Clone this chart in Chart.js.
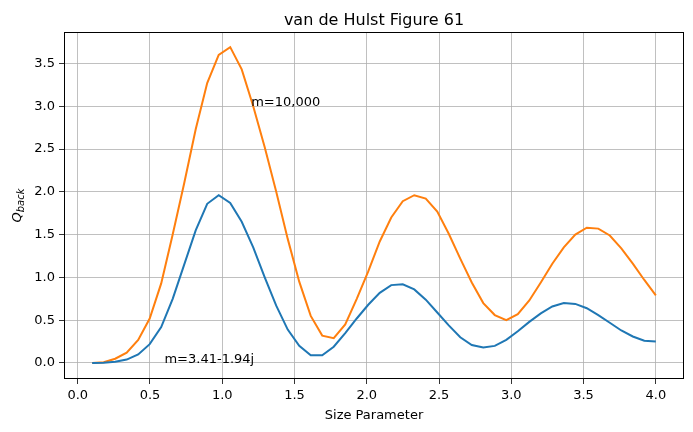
<!DOCTYPE html>
<html><head><meta charset="utf-8">
<script src="https://cdn.jsdelivr.net/npm/chart.js@4"></script>
<style>body{margin:0;background:#fff}#w{width:693px;height:432px}</style>
</head><body><div id="w"><canvas id="c"></canvas></div>
<script>
const sizeParam = Array.from({length:50},(_,i)=>+(0.1+i*3.9/49).toFixed(4));
const qBlue = [0.0,0.003,0.015,0.04,0.1,0.22,0.42,0.75,1.15,1.55,1.86,1.96,1.87,1.65,1.35,1.0,0.67,0.39,0.2,0.09,0.09,0.19,0.35,0.52,0.68,0.82,0.91,0.92,0.86,0.74,0.59,0.44,0.3,0.21,0.18,0.2,0.27,0.37,0.48,0.58,0.66,0.7,0.69,0.64,0.56,0.47,0.38,0.31,0.26,0.25];
const qOrange = [0.0,0.01,0.05,0.12,0.27,0.52,0.93,1.5,2.1,2.73,3.27,3.6,3.69,3.43,3.0,2.52,2.0,1.45,0.95,0.55,0.32,0.29,0.45,0.75,1.07,1.42,1.7,1.89,1.96,1.92,1.77,1.51,1.22,0.94,0.7,0.56,0.5,0.57,0.73,0.94,1.16,1.35,1.5,1.58,1.57,1.49,1.34,1.16,0.97,0.79];
const xTicks = [0,0.5,1,1.5,2,2.5,3,3.5,4];
const yTicks = [0,0.5,1,1.5,2,2.5,3,3.5];
const notes = [{x:1.2,y:3.0,text:'m=10,000'},{x:0.6,y:0.0,text:'m=3.41-1.94j'}];
const F='DejaVu Sans';
const deco={id:'deco',afterDraw(ch){const c=ch.ctx,a=ch.chartArea,xs=ch.scales.x,ys=ch.scales.y;c.save();
c.strokeStyle='#000';c.lineWidth=1;c.beginPath();
c.moveTo(a.left,a.top+0.5);c.lineTo(a.right,a.top+0.5);
c.moveTo(a.right-0.5,a.top);c.lineTo(a.right-0.5,a.bottom);
c.moveTo(a.left+0.5,a.top);c.lineTo(a.left+0.5,a.bottom);
c.moveTo(a.left,a.bottom-0.5);c.lineTo(a.right,a.bottom-0.5);c.stroke();
c.fillStyle='#000';c.font='13px '+F;c.textBaseline='alphabetic';c.textAlign='left';
notes.forEach(n=>c.fillText(n.text,xs.getPixelForValue(n.x),ys.getPixelForValue(n.y)));
c.font='16px '+F;c.textAlign='center';c.fillText('van de Hulst Figure 61',(a.left+a.right)/2,25);
c.font='13px '+F;c.fillText('Size Parameter',(a.left+a.right)/2,419);
c.translate(21,(a.top+a.bottom)/2);c.rotate(-Math.PI/2);c.textAlign='left';
c.font='italic 13px '+F;const w1=c.measureText('Q').width;c.font='italic 10px '+F;const w2=c.measureText('back').width;
let x0=-(w1+w2)/2;c.font='italic 13px '+F;c.fillText('Q',x0,0);c.font='italic 10px '+F;c.fillText('back',x0+w1,3);
c.restore();}};
new Chart(document.getElementById('c'),{type:'line',
data:{labels:sizeParam,datasets:[
{data:sizeParam.map((x,i)=>({x,y:qBlue[i]})),borderColor:'#1f77b4',borderWidth:2,pointRadius:0,tension:0,fill:false},
{data:sizeParam.map((x,i)=>({x,y:qOrange[i]})),borderColor:'#ff7f0e',borderWidth:2,pointRadius:0,tension:0,fill:false}]},
options:{responsive:true,maintainAspectRatio:false,animation:false,
layout:{padding:{top:32,right:9,left:0,bottom:0}},
plugins:{legend:{display:false},tooltip:{enabled:false}},
scales:{
x:{type:'linear',min:-0.095,max:4.195,afterBuildTicks(s){s.ticks=xTicks.map(v=>({value:v}))},afterFit(s){s.height=53},
ticks:{color:'#000',font:{family:F,size:13},maxRotation:0,callback:v=>v.toFixed(1),padding:4},
grid:{color:'#b0b0b0',lineWidth:0.8,tickLength:5,tickColor:'#000'},border:{display:false}},
y:{type:'linear',min:-0.187,max:3.867,afterBuildTicks(s){s.ticks=yTicks.map(v=>({value:v}))},afterFit(s){s.width=64},
ticks:{color:'#000',font:{family:F,size:13},callback:v=>v.toFixed(1),padding:4},
grid:{color:'#b0b0b0',lineWidth:0.8,tickLength:5,tickColor:'#000'},border:{display:false}}}},
plugins:[deco]});
</script></body></html>
